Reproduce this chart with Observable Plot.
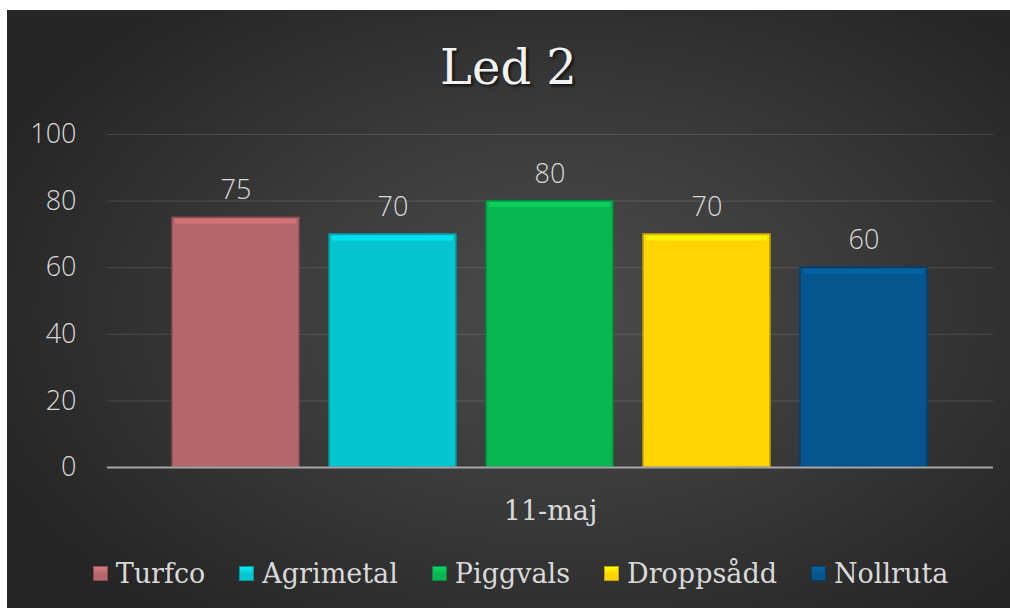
<!DOCTYPE html>
<html>
<head>
<meta charset="utf-8">
<script src="https://cdn.jsdelivr.net/npm/d3@7"></script>
<script src="https://cdn.jsdelivr.net/npm/@observablehq/plot@0.6"></script>
<style>
  html, body { margin: 0; padding: 0; background: #ffffff; }
  #card {
    position: absolute; left: 7px; top: 10px; width: 1003px; height: 598px;
    background: radial-gradient(ellipse 60% 65% at 55% 50%, #4b4b4b 0%, #3c3c3c 45%, #262626 100%);
    overflow: hidden;
  }
  #title {
    height: 100px; line-height: 114px; text-align: center;
    font-family: "DejaVu Serif", serif; font-size: 48px; color: #f2f2f2;
    text-shadow: 2px 2px 3px rgba(0,0,0,0.7);
  }
  #chart svg { display: block; }
  #legend {
    display: flex; justify-content: center; align-items: center; gap: 34px;
    margin-top: 28px; padding-left: 24px;
    font-family: "DejaVu Serif", serif; font-size: 27px; color: #d9d9d9;
  }
  .item { display: flex; align-items: center; gap: 8px; }
  .sw { width: 15px; height: 15px; box-sizing: border-box; }
</style>
</head>
<body>
<div id="card">
  <div id="title">Led 2</div>
  <div id="chart"></div>
  <div id="legend"></div>
</div>
<script>
const dates = ["11-maj"];
const series = ["Turfco", "Agrimetal", "Piggvals", "Droppsådd", "Nollruta"];
const values = [75, 70, 80, 70, 60];
const colors = ["#b5676b", "#05c6cf", "#08b652", "#fed402", "#05558e"];
const yTicks = [0, 20, 40, 60, 80, 100];

const data = series.map((s, i) => ({date: dates[0], series: s, value: values[i]}));
const colorOf = s => colors[series.indexOf(s)];
const darker = s => d3.color(colorOf(s)).darker(0.8).formatHex();
const lighter = s => d3.color(colorOf(s)).brighter(0.5).formatHex();

const chart = Plot.plot({
  width: 1003,
  height: 420,
  marginTop: 24,
  marginBottom: 63,
  marginLeft: 100,
  marginRight: 17,
  style: {background: "transparent", color: "#d9d9d9", fontFamily: "'Open Sans', sans-serif", fontSize: "26px"},
  fx: {domain: dates, padding: 0, label: null},
  x: {domain: series, paddingInner: 0.19, paddingOuter: 0.41, axis: null},
  y: {domain: [0, 100], label: null},
  color: {domain: series, range: colors},
  marks: [
    Plot.gridY(yTicks, {stroke: "#ffffff", strokeOpacity: 0.13, strokeWidth: 1}),
    Plot.axisY(yTicks, {tickSize: 0, tickPadding: 31, fontSize: 27, fontWeight: 300, fill: "#d9d9d9", label: null}),
    Plot.axisFx({anchor: "bottom", tickSize: 0, tickPadding: 33, fontSize: 27, fontFamily: "DejaVu Serif, serif", fill: "#d9d9d9", label: null}),
    Plot.barY(data, {fx: "date", x: "series", y: "value", fill: "series", stroke: d => darker(d.series), strokeWidth: 1.5}),
    Plot.tickY(data, {fx: "date", x: "series", y: "value", stroke: d => lighter(d.series), strokeWidth: 5, dy: 3.5, insetLeft: 3, insetRight: 3, strokeOpacity: 0.7}),
    Plot.ruleY([0], {stroke: "#a6a6a6", strokeWidth: 2}),
    Plot.text(data, {fx: "date", x: "series", y: "value", text: d => String(d.value), dy: -27, fontSize: 27, fontWeight: 300, fill: "#d9d9d9"})
  ]
});
document.getElementById("chart").appendChild(chart);

const legend = document.getElementById("legend");
series.forEach((s, i) => {
  const item = document.createElement("div");
  item.className = "item";
  const sw = document.createElement("div");
  sw.className = "sw";
  sw.style.background = `linear-gradient(to bottom, ${lighter(s)} 0%, ${colors[i]} 55%)`;
  sw.style.border = `1px solid ${darker(s)}`;
  const t = document.createElement("span");
  t.textContent = s;
  item.appendChild(sw);
  item.appendChild(t);
  legend.appendChild(item);
});
</script>
</body>
</html>
